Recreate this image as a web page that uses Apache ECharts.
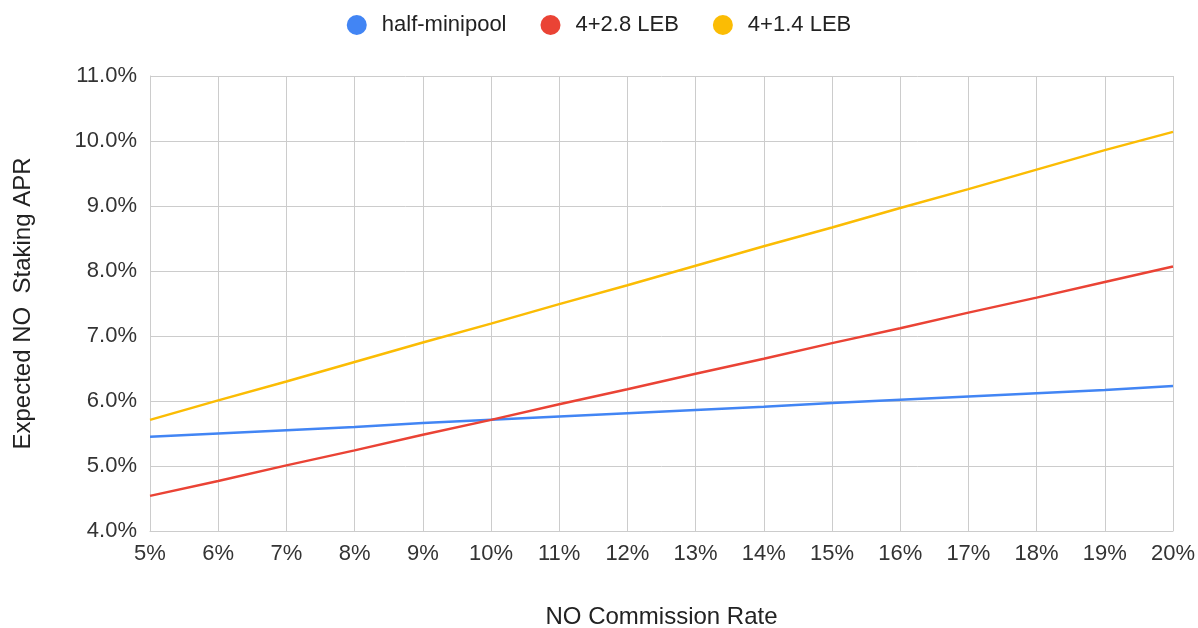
<!DOCTYPE html>
<html>
<head>
<meta charset="utf-8">
<script src="https://cdn.jsdelivr.net/npm/echarts@6/dist/echarts.min.js"></script>
<style>
  html, body { margin: 0; padding: 0; background: #fff; }
  #chart-container { width: 1198px; height: 628px; }
</style>
</head>
<body>
<div id="chart-container"></div>
<script>
var commission = ['5%', '6%', '7%', '8%', '9%', '10%', '11%', '12%', '13%', '14%', '15%', '16%', '17%', '18%', '19%', '20%'];
var halfMinipool = [5.45, 5.50, 5.55, 5.60, 5.66, 5.71, 5.76, 5.81, 5.86, 5.91, 5.97, 6.02, 6.07, 6.12, 6.17, 6.23];
var leb28 = [4.54, 4.77, 5.01, 5.24, 5.48, 5.71, 5.95, 6.18, 6.42, 6.65, 6.89, 7.12, 7.36, 7.59, 7.83, 8.07];
var leb14 = [5.71, 6.01, 6.30, 6.60, 6.90, 7.19, 7.49, 7.78, 8.08, 8.38, 8.67, 8.97, 9.26, 9.56, 9.86, 10.14];

var dom = document.getElementById('chart-container');
var myChart = echarts.init(dom, null, { renderer: 'canvas' });

var font = 'Liberation Sans, Arial, sans-serif';
var gridColor = '#cccccc';

var option = {
  animation: false,
  textStyle: { fontFamily: font },
  color: ['#4285F4', '#EA4335', '#FBBC04'],
  legend: {
    top: 9,
    left: 'center',
    icon: 'circle',
    itemWidth: 40,
    itemHeight: 20,
    itemGap: 34,
    textStyle: { fontSize: 22, color: '#222', fontFamily: font }
  },
  grid: { left: 150, right: 25, top: 76, bottom: 97, outerBoundsMode: 'none' },
  xAxis: {
    type: 'category',
    data: commission,
    boundaryGap: false,
    name: 'NO Commission Rate',
    nameLocation: 'middle',
    nameGap: 74,
    nameTextStyle: { fontSize: 24, color: '#222', fontFamily: font },
    axisLine: { lineStyle: { color: gridColor } },
    axisTick: { show: false },
    axisLabel: { fontSize: 22, color: '#333', margin: 12, fontFamily: font },
    splitLine: { show: true, lineStyle: { color: gridColor, width: 1 } }
  },
  yAxis: {
    type: 'value',
    min: 4,
    max: 11,
    interval: 1,
    name: 'Expected NO  Staking APR',
    nameLocation: 'middle',
    nameGap: 115,
    nameTextStyle: { fontSize: 24, color: '#222', fontFamily: font },
    axisLine: { show: true, lineStyle: { color: gridColor } },
    axisTick: { show: false },
    axisLabel: {
      fontSize: 22,
      color: '#333',
      margin: 13,
      fontFamily: font,
      formatter: function (v) { return v.toFixed(1) + '%'; }
    },
    splitLine: { show: true, lineStyle: { color: gridColor, width: 1 } }
  },
  series: [
    { name: 'half-minipool', type: 'line', data: halfMinipool, showSymbol: false, lineStyle: { width: 2.5 } },
    { name: '4+2.8 LEB', type: 'line', data: leb28, showSymbol: false, lineStyle: { width: 2.5 } },
    { name: '4+1.4 LEB', type: 'line', data: leb14, showSymbol: false, lineStyle: { width: 2.5 } }
  ]
};

myChart.setOption(option);
window.addEventListener('resize', myChart.resize);
</script>
</body>
</html>
